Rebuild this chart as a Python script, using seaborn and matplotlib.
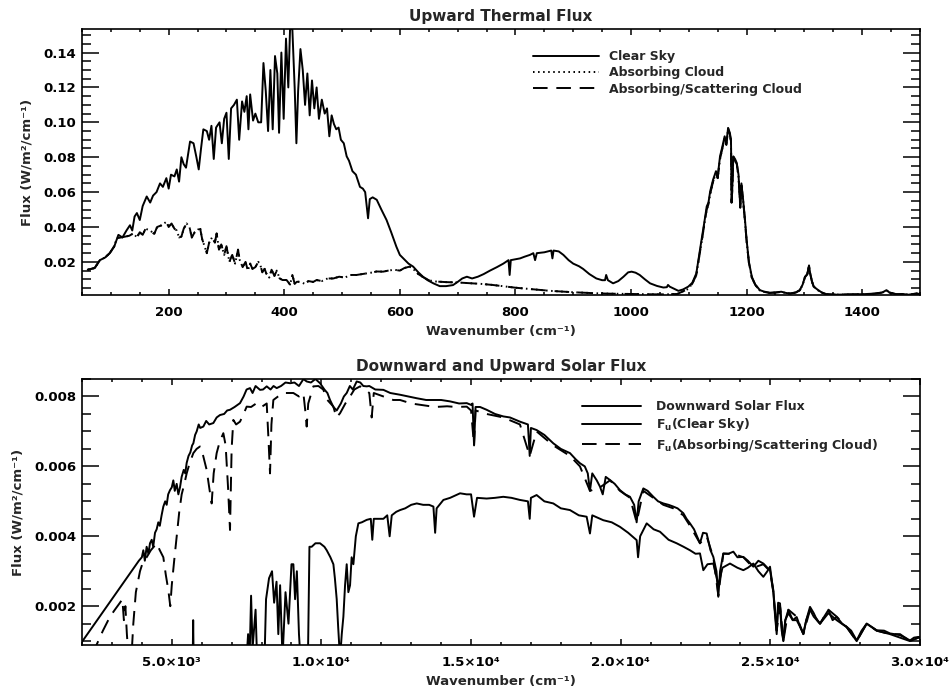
import matplotlib
matplotlib.use("Agg")
import matplotlib.pyplot as plt
import seaborn as sns
from matplotlib.ticker import MultipleLocator, FixedLocator, FixedFormatter, FormatStrFormatter

# ---------------- Upward thermal flux (top panel) ----------------
thermal_clear_x = [60, 72, 81, 90, 98, 106, 113, 120, 127, 133, 137, 141, 145, 150, 155, 162, 168, 173, 179, 185,
                   190, 196, 200, 204, 210, 214, 218, 222, 226, 230, 237, 243, 248, 252, 256, 260, 266, 270, 274, 278,
                   282, 288, 292, 296, 300, 304, 308, 313, 318, 322, 327, 331, 335, 338, 341, 346, 350, 355, 360, 364,
                   368, 372, 376, 380, 384, 388, 391, 395, 399, 403, 407, 410, 414, 418, 421, 424, 428, 432, 436, 440,
                   444, 448, 452, 456, 460, 465, 470, 474, 478, 482, 486, 490, 494, 498, 503, 508, 512, 518, 524, 531,
                   536, 540, 545, 548, 553, 560, 568, 577, 585, 594, 600, 606, 615, 623, 632, 640, 648, 658, 669, 680,
                   692, 700, 708, 716, 725, 735, 745, 756, 768, 779, 788, 790, 792, 800, 808, 816, 825, 831, 834, 837,
                   850, 862, 864, 866, 875, 883, 892, 900, 910, 917, 928, 940, 950, 955, 957, 960, 969, 978, 987, 995,
                   1001, 1008, 1015, 1024, 1033, 1045, 1056, 1062, 1064, 1067, 1075, 1082, 1090, 1099, 1106, 1113,
                   1117, 1122, 1127, 1131, 1134, 1137, 1142, 1147, 1150, 1154, 1158, 1162, 1165, 1168, 1171, 1173,
                   1174, 1175, 1177, 1180, 1183, 1186, 1188, 1189, 1191, 1194, 1197, 1200, 1204, 1209, 1215, 1223,
                   1230, 1240, 1250, 1260, 1268, 1275, 1285, 1292, 1297, 1301, 1305, 1308, 1310, 1313, 1316, 1320,
                   1324, 1330, 1338, 1356, 1380, 1402, 1420, 1435, 1442, 1447, 1459, 1470, 1480, 1494, 1500]
thermal_clear_y = [0.0155, 0.0165, 0.021, 0.0225, 0.025, 0.029, 0.0355, 0.034, 0.038, 0.041, 0.038, 0.046, 0.048,
                   0.044, 0.052, 0.0575, 0.054, 0.058, 0.060, 0.065, 0.063, 0.068, 0.062, 0.070, 0.069, 0.073, 0.066,
                   0.080, 0.076, 0.074, 0.089, 0.088, 0.080, 0.073, 0.085, 0.096, 0.095, 0.090, 0.098, 0.079, 0.097,
                   0.100, 0.088, 0.102, 0.1055, 0.079, 0.108, 0.110, 0.113, 0.090, 0.112, 0.106, 0.115, 0.096, 0.116,
                   0.101, 0.105, 0.100, 0.100, 0.134, 0.118, 0.095, 0.130, 0.096, 0.138, 0.128, 0.094, 0.140, 0.102,
                   0.148, 0.120, 0.1534, 0.1534, 0.120, 0.088, 0.118, 0.142, 0.130, 0.110, 0.128, 0.104, 0.124, 0.108,
                   0.120, 0.102, 0.113, 0.105, 0.108, 0.092, 0.104, 0.099, 0.096, 0.097, 0.090, 0.088, 0.0805, 0.078,
                   0.072, 0.070, 0.063, 0.062, 0.060, 0.045, 0.056, 0.057, 0.0556, 0.050, 0.044, 0.037, 0.0287, 0.024,
                   0.022, 0.019, 0.0173, 0.014, 0.0115, 0.0095, 0.0077, 0.0061, 0.0061, 0.0067, 0.0085, 0.0105, 0.0115,
                   0.0105, 0.0115, 0.013, 0.015, 0.017, 0.019, 0.021, 0.0125, 0.021, 0.0215, 0.022, 0.023, 0.024, 0.025,
                   0.021, 0.025, 0.0255, 0.0265, 0.022, 0.0265, 0.026, 0.024, 0.021, 0.019, 0.0175, 0.016, 0.013,
                   0.0105, 0.0095, 0.0095, 0.0125, 0.0095, 0.0077, 0.009, 0.0115, 0.014, 0.0144, 0.0138, 0.0125, 0.010,
                   0.0077, 0.0062, 0.0053, 0.0055, 0.0068, 0.0058, 0.0045, 0.0034, 0.0042, 0.0058, 0.008, 0.0134, 0.022,
                   0.0326, 0.043, 0.0518, 0.054, 0.0605, 0.0671, 0.072, 0.069, 0.0805, 0.086, 0.092, 0.088, 0.0968,
                   0.094, 0.090, 0.054, 0.060, 0.0805, 0.079, 0.0767, 0.070, 0.058, 0.0518, 0.065, 0.0556, 0.045,
                   0.0326, 0.020, 0.0115, 0.007, 0.0038, 0.003, 0.0023, 0.0025, 0.0029, 0.0022, 0.0019, 0.0025, 0.0038,
                   0.007, 0.0115, 0.013, 0.018, 0.0135, 0.009, 0.006, 0.0048, 0.0038, 0.0025, 0.0015, 0.0012, 0.0014,
                   0.0015, 0.0018, 0.0025, 0.0038, 0.0025, 0.0015, 0.0016, 0.0012, 0.0019, 0.0015]

thermal_scat_x = [60, 72, 81, 90, 98, 106, 110, 118, 125, 132, 139, 145, 150, 155, 160, 168, 175, 180, 188, 196,
                  200, 205, 210, 214, 218, 222, 226, 231, 236, 240, 245, 250, 254, 258, 262, 266, 270, 275, 280, 283,
                  287, 291, 296, 300, 305, 310, 315, 320, 323, 328, 333, 337, 341, 345, 350, 355, 358, 362, 366, 369,
                  374, 378, 383, 387, 392, 397, 404, 410, 414, 418, 422, 427, 435, 442, 450, 456, 465, 475, 485, 495,
                  505, 514, 525, 535, 542, 550, 560, 571, 580, 590, 600, 608, 617, 623, 632, 640, 650, 660, 680, 700,
                  720, 740, 760, 780, 800, 820, 840, 860, 880, 900, 920, 940, 960, 980, 1000, 1020, 1040, 1060, 1080,
                  1099, 1106, 1113, 1117, 1122, 1127, 1131, 1134, 1137, 1142, 1147, 1150, 1154, 1158, 1162, 1165,
                  1168, 1171, 1173, 1174, 1175, 1177, 1180, 1183, 1186, 1188, 1189, 1191, 1194, 1197, 1200, 1204,
                  1209, 1215, 1223, 1230, 1240, 1250, 1260, 1268, 1275, 1285, 1292, 1297, 1301, 1305, 1308, 1310,
                  1313, 1316, 1320, 1324, 1330, 1338, 1356, 1380, 1402, 1420, 1435, 1442, 1447, 1459, 1470, 1480,
                  1494, 1500]
thermal_scat_y = [0.0155, 0.0165, 0.021, 0.0225, 0.025, 0.029, 0.0335, 0.034, 0.0345, 0.035, 0.0364, 0.034, 0.037,
                  0.0355, 0.039, 0.038, 0.036, 0.040, 0.041, 0.043, 0.040, 0.042, 0.039, 0.038, 0.034, 0.0345, 0.039,
                  0.042, 0.040, 0.034, 0.037, 0.038, 0.040, 0.033, 0.029, 0.025, 0.031, 0.034, 0.031, 0.0364, 0.027,
                  0.030, 0.024, 0.029, 0.020, 0.024, 0.019, 0.027, 0.021, 0.017, 0.020, 0.015, 0.019, 0.016, 0.017,
                  0.020, 0.019, 0.014, 0.016, 0.0133, 0.011, 0.0155, 0.012, 0.015, 0.0105, 0.0096, 0.0096, 0.007,
                  0.0125, 0.0075, 0.0086, 0.0086, 0.0075, 0.009, 0.0085, 0.0096, 0.009, 0.0105, 0.0105, 0.0115, 0.011,
                  0.0125, 0.0125, 0.013, 0.0134, 0.0138, 0.0145, 0.0144, 0.015, 0.0155, 0.015, 0.0165, 0.0173, 0.016,
                  0.013, 0.0113, 0.0095, 0.0088, 0.0084, 0.0082, 0.0078, 0.0074, 0.0068, 0.006, 0.0052, 0.0046,
                  0.004, 0.0034, 0.003, 0.0026, 0.0023, 0.002, 0.0018, 0.0017, 0.0016, 0.0015, 0.0014, 0.0014,
                  0.0016, 0.0045, 0.0075, 0.0125, 0.021, 0.031, 0.042, 0.050, 0.053, 0.059, 0.066, 0.071, 0.068,
                  0.079, 0.085, 0.091, 0.087, 0.0965, 0.093, 0.089, 0.054, 0.060, 0.079, 0.078, 0.076, 0.069, 0.058,
                  0.051, 0.064, 0.055, 0.044, 0.032, 0.0195, 0.011, 0.0068, 0.0036, 0.0028, 0.0022, 0.0024, 0.0028,
                  0.0021, 0.0018, 0.0024, 0.0037, 0.0068, 0.0112, 0.0128, 0.0178, 0.0132, 0.0088, 0.0058, 0.0046,
                  0.0036, 0.0024, 0.0014, 0.0012, 0.0013, 0.0014, 0.0017, 0.0024, 0.0037, 0.0024, 0.0014, 0.0015,
                  0.0012, 0.0018, 0.0015]

thermal_abs_x = thermal_scat_x
thermal_abs_y = thermal_scat_y

# ---------------- Solar flux (bottom panel) ----------------
down_x = [2000, 3900, 4000, 4050, 4100, 4160, 4220, 4272, 4330, 4380, 4440, 4495, 4550, 4600, 4660, 4718, 4780,
          4830, 4880, 4941, 5000, 5052, 5100, 5164, 5220, 5275, 5330, 5400, 5450, 5498, 5560, 5620, 5680, 5721,
          5780, 5832, 5900, 5950, 6055, 6150, 6250, 6389, 6500, 6612, 6750, 6850, 6946, 7100, 7280, 7400, 7500,
          7614, 7700, 7800, 7949, 8050, 8172, 8300, 8400, 8506, 8650, 8800, 8952, 9100, 9250, 9400, 9508, 9650,
          9800, 9954, 10100, 10200, 10288, 10400, 10511, 10650, 10750, 10845, 10950, 11050, 11179, 11300, 11400,
          11514, 11600, 11800, 12071, 12300, 12628, 12900, 13185, 13500, 13742, 14000, 14299, 14600, 14856, 15000,
          15050, 15100, 15150, 15300, 15520, 15800, 16077, 16300, 16634, 16900, 16960, 17000, 17191, 17450, 17748,
          18000, 18305, 18500, 18639, 18800, 18900, 18973, 19050, 19200, 19308, 19400, 19500, 19642, 19800, 19976,
          20150, 20310, 20450, 20533, 20600, 20756, 20900, 21090, 21250, 21424, 21600, 21758, 21900, 22093, 22200,
          22315, 22450, 22649, 22750, 22872, 23000, 23095, 23200, 23262, 23320, 23429, 23600, 23764, 23900, 24098,
          24250, 24432, 24600, 24766, 24900, 24989, 25100, 25160, 25212, 25260, 25323, 25380, 25435, 25500, 25602,
          25750, 25880, 26000, 26103, 26200, 26326, 26450, 26560, 26660, 26800, 26939, 27080, 27217, 27400, 27551,
          27700, 27885, 28050, 28219, 28400, 28553, 28800, 28999, 29150, 29333, 29500, 29668, 29800, 29946, 30000]
down_y = [0.00098, 0.0033, 0.0034, 0.0036, 0.0033, 0.0037, 0.0035, 0.0038, 0.0039, 0.0037, 0.0041, 0.0042, 0.0044,
          0.0043, 0.0046, 0.00485, 0.0050, 0.0049, 0.0052, 0.00532, 0.0054, 0.0056, 0.0053, 0.0055, 0.0052, 0.0054,
          0.0057, 0.0059, 0.0058, 0.0061, 0.0063, 0.0064, 0.0066, 0.00666, 0.0069, 0.0070, 0.0072, 0.0071, 0.00714,
          0.0073, 0.0072, 0.00724, 0.0074, 0.00747, 0.0075, 0.0076, 0.00762, 0.0077, 0.00781, 0.0080, 0.0082,
          0.00824, 0.0081, 0.0083, 0.00819, 0.0082, 0.00829, 0.0082, 0.0083, 0.00824, 0.0083, 0.0084, 0.00838,
          0.0084, 0.0083, 0.0085, 0.00843, 0.0084, 0.0085, 0.00838, 0.0082, 0.0081, 0.0079, 0.0077, 0.0076, 0.0078,
          0.0080, 0.0081, 0.0083, 0.0082, 0.00843, 0.0084, 0.0083, 0.00829, 0.0083, 0.0082, 0.00819, 0.0081,
          0.00805, 0.0080, 0.00795, 0.0079, 0.0079, 0.0079, 0.00786, 0.0078, 0.00781, 0.00776, 0.0078, 0.0066,
          0.0077, 0.0077, 0.00762, 0.0075, 0.00743, 0.0074, 0.00728, 0.0072, 0.0063, 0.0071, 0.00704, 0.0069,
          0.00666, 0.0065, 0.00638, 0.0062, 0.00609, 0.0060, 0.0058, 0.0053, 0.0058, 0.0056, 0.00542, 0.0052,
          0.0057, 0.00561, 0.0055, 0.00532, 0.0052, 0.00513, 0.0049, 0.0044, 0.0050, 0.00537, 0.0053, 0.00513,
          0.0050, 0.00494, 0.0049, 0.00485, 0.0048, 0.00466, 0.0045, 0.00437, 0.0042, 0.0038, 0.0041, 0.00408,
          0.0036, 0.00341, 0.0030, 0.00227, 0.0030, 0.00351, 0.0035, 0.00356, 0.0034, 0.00341, 0.0033, 0.00313,
          0.0033, 0.00322, 0.0031, 0.00303, 0.00246, 0.0018, 0.00131, 0.0021, 0.00208, 0.0014, 0.00102, 0.0016,
          0.00189, 0.0016, 0.00169, 0.0014, 0.00122, 0.0016, 0.00198, 0.0018, 0.0016, 0.0015, 0.0017, 0.00189,
          0.0016, 0.00169, 0.0015, 0.00141, 0.0013, 0.00102, 0.0013, 0.0015, 0.0014, 0.00131, 0.0013, 0.00122,
          0.0012, 0.00117, 0.0011, 0.00102, 0.0011, 0.00112, 0.0011]

upclear_x = [5500, 5700, 5715, 5730, 7500, 7550, 7600, 7650, 7700, 7800, 7850, 8100, 8150, 8250, 8350, 8420, 8500,
             8560, 8620, 8700, 8800, 8900, 9000, 9063, 9120, 9180, 9250, 9300, 9550, 9600, 9675, 9800, 9954, 10100,
             10177, 10300, 10400, 10450, 10511, 10560, 10622, 10680, 10734, 10790, 10845, 10900, 10957, 11010, 11068,
             11150, 11235, 11350, 11514, 11650, 11700, 11750, 11900, 12071, 12200, 12280, 12350, 12500, 12628, 12800,
             13000, 13185, 13400, 13600, 13742, 13800, 13850, 14076, 14300, 14633, 14850, 15000, 15100, 15200,
             15520, 15800, 16077, 16350, 16634, 16900, 16960, 17000, 17191, 17450, 17748, 18000, 18305, 18600,
             18862, 18973, 19050, 19419, 19700, 19976, 20250, 20533, 20580, 20650, 20868, 21100, 21313, 21600,
             21870, 22100, 22315, 22500, 22649, 22761, 22900, 23095, 23262, 23400, 23652, 23900, 24098, 24250,
             24432, 24600, 24766, 24900, 24989, 25100, 25160, 25212, 25260, 25323, 25380, 25435, 25500, 25602,
             25750, 25880, 26000, 26103, 26200, 26326, 26450, 26660, 26939, 27217, 27551, 27885, 28219, 28553,
             28999, 29333, 29668, 29946, 30000]
upclear_y = [0.0005, 0.0005, 0.0016, 0.0005, 0.0005, 0.0012, 0.0005, 0.0023, 0.0008, 0.0019, 0.0005, 0.0005, 0.0022,
             0.0028, 0.0030, 0.0021, 0.0027, 0.0012, 0.0026, 0.0005, 0.0024, 0.0015, 0.0032, 0.0032, 0.0022, 0.0030,
             0.0012, 0.0005, 0.0005, 0.0037, 0.0037, 0.0038, 0.0038, 0.0037, 0.0036, 0.0034, 0.0032, 0.0028, 0.0022,
             0.0014, 0.0005, 0.0012, 0.0017, 0.0026, 0.0032, 0.0024, 0.0026, 0.0034, 0.0032, 0.0040, 0.00437, 0.0044,
             0.00447, 0.0045, 0.0039, 0.0045, 0.0045, 0.0045, 0.0046, 0.0040, 0.0046, 0.0047, 0.00475, 0.0048,
             0.0049, 0.00494, 0.0049, 0.0049, 0.00485, 0.0041, 0.0048, 0.00504, 0.0051, 0.00523, 0.0052, 0.0052,
             0.00456, 0.0051, 0.00508, 0.0051, 0.00513, 0.0051, 0.00504, 0.0050, 0.0045, 0.0051, 0.00518, 0.0050,
             0.00494, 0.0048, 0.00475, 0.0046, 0.00456, 0.00408, 0.0046, 0.00446, 0.0044, 0.00427, 0.0041, 0.00389,
             0.0034, 0.0040, 0.00437, 0.0042, 0.00413, 0.0039, 0.0038, 0.0037, 0.0036, 0.0035, 0.00351, 0.00303,
             0.0032, 0.00322, 0.0026, 0.0031, 0.00322, 0.0031, 0.00303, 0.0031, 0.00322, 0.0030, 0.00284, 0.0030,
             0.00313, 0.0024, 0.0017, 0.0012, 0.0020, 0.0020, 0.0013, 0.0010, 0.0016, 0.0018, 0.0016, 0.0016,
             0.0014, 0.0012, 0.0016, 0.0019, 0.0017, 0.0015, 0.0018, 0.0016, 0.0014, 0.0010, 0.0015, 0.0013,
             0.0012, 0.0011, 0.0010, 0.0011, 0.0011]

upcloud_x = [2400, 2490, 2700, 2936, 3100, 3270, 3350, 3400, 3450, 3500, 3560, 3650, 3715, 3800, 3938, 4050, 4161,
             4300, 4400, 4495, 4600, 4718, 4800, 4885, 4950, 5000, 5080, 5164, 5250, 5331, 5420, 5498, 5600, 5721,
             5830, 5944, 6050, 6166, 6250, 6333, 6400, 6500, 6600, 6723, 6800, 6880, 6946, 7000, 7057, 7150, 7280,
             7400, 7503, 7650, 7837, 8000, 8172, 8230, 8283, 8330, 8394, 8550, 8729, 8900, 9063, 9250, 9397, 9460,
             9508, 9560, 9731, 9900, 10060, 10200, 10400, 10500, 10622, 10800, 10957, 11100, 11291, 11450, 11600,
             11680, 11750, 12071, 12400, 12628, 13000, 13400, 13800, 14200, 14500, 14856, 15000, 15100, 15150,
             15520, 16077, 16634, 16960, 17191, 17748, 18305, 18639, 18973, 19308, 19642, 19976, 20310, 20533,
             20756, 21090, 21424, 21758, 22093, 22315, 22649, 22872, 23095, 23262, 23429, 23764, 24098, 24432,
             24766, 24989, 25100, 25212, 25323, 25435, 25602, 25880, 26103, 26326, 26660, 26939, 27217, 27551,
             27885, 28219, 28553, 28999, 29333, 29668, 29946, 30000]
upcloud_y = [0.0006, 0.0009, 0.0013, 0.0017, 0.0019, 0.0021, 0.0022, 0.0016, 0.0020, 0.0012, 0.0005, 0.0005, 0.0015,
             0.0024, 0.0030, 0.0033, 0.0034, 0.0036, 0.0037, 0.0038, 0.0036, 0.0034, 0.0029, 0.00246, 0.0020, 0.0026,
             0.0033, 0.0040, 0.0047, 0.0052, 0.0055, 0.0058, 0.0061, 0.00638, 0.0065, 0.00657, 0.0063, 0.0059,
             0.0054, 0.00494, 0.0058, 0.00638, 0.0067, 0.00695, 0.0066, 0.0054, 0.00418, 0.0065, 0.00733, 0.0072,
             0.00728, 0.0075, 0.00771, 0.0077, 0.00781, 0.0077, 0.0078, 0.0068, 0.0058, 0.0072, 0.0079, 0.0080,
             0.0081, 0.0081, 0.0081, 0.0080, 0.0081, 0.0076, 0.00714, 0.0078, 0.00829, 0.0083, 0.0082, 0.0079,
             0.00771, 0.0074, 0.00752, 0.0078, 0.0080, 0.0082, 0.00829, 0.0082, 0.0081, 0.0074, 0.0081, 0.0080,
             0.0079, 0.0079, 0.0078, 0.00775, 0.0077, 0.00772, 0.0077, 0.00771, 0.0076, 0.0066, 0.0076, 0.0075,
             0.0074, 0.0072, 0.0063, 0.0070, 0.0066, 0.0063, 0.0060, 0.0053, 0.0054, 0.0056, 0.0053, 0.0051, 0.0044,
             0.0053, 0.0051, 0.0049, 0.0048, 0.0046, 0.0043, 0.0038, 0.0040, 0.0034, 0.0023, 0.0035, 0.0035, 0.0034,
             0.0031, 0.0032, 0.0030, 0.0024, 0.0013, 0.0020, 0.0010, 0.0019, 0.0017, 0.0012, 0.0019, 0.0015, 0.0019,
             0.0017, 0.0014, 0.0010, 0.0015, 0.0013, 0.0012, 0.0012, 0.0010, 0.0011, 0.0011]

thermal_xticks = [200, 400, 600, 800, 1000, 1200, 1400]
thermal_yticks = [0.02, 0.04, 0.06, 0.08, 0.10, 0.12, 0.14]
solar_xticks = [5000, 10000, 15000, 20000, 25000, 30000]
solar_xticklabels = ["5.0×10³", "1.0×10⁴", "1.5×10⁴", "2.0×10⁴", "2.5×10⁴", "3.0×10⁴"]
solar_yticks = [0.002, 0.004, 0.006, 0.008]

# ---------------- Styling ----------------
sns.set_style("ticks")
plt.rcParams["font.family"] = ["DejaVu Sans"]
plt.rcParams["font.weight"] = "bold"
plt.rcParams["mathtext.default"] = "bf"

fig = plt.figure(figsize=(9.5, 6.89), dpi=100)
ax1 = fig.add_axes([0.0863, 0.5718, 0.8821, 0.3861])
ax2 = fig.add_axes([0.0863, 0.0639, 0.8821, 0.3860])

LW = 1.4
DASH = (0, (7.5, 4.5))
DOT = (0, (0.8, 1.8))

sns.lineplot(x=thermal_clear_x, y=thermal_clear_y, ax=ax1, color="black", lw=LW, sort=False,
             estimator=None, label="Clear Sky")
sns.lineplot(x=thermal_abs_x, y=thermal_abs_y, ax=ax1, color="black", lw=LW, sort=False,
             estimator=None, linestyle=DOT, label="Absorbing Cloud")
sns.lineplot(x=thermal_scat_x, y=thermal_scat_y, ax=ax1, color="black", lw=LW, sort=False,
             estimator=None, linestyle=DASH, label="Absorbing/Scattering Cloud")

sns.lineplot(x=down_x, y=down_y, ax=ax2, color="black", lw=LW, sort=False, estimator=None,
             label="Downward Solar Flux")
sns.lineplot(x=upclear_x, y=upclear_y, ax=ax2, color="black", lw=LW, sort=False, estimator=None,
             label="F$_u$(Clear Sky)")
sns.lineplot(x=upcloud_x, y=upcloud_y, ax=ax2, color="black", lw=LW, sort=False, estimator=None,
             linestyle=DASH, label="F$_u$(Absorbing/Scattering Cloud)")

# axes limits and ticks
ax1.set_xlim(50, 1500)
ax1.set_ylim(0.001, 0.1535)
ax1.xaxis.set_major_locator(FixedLocator(thermal_xticks))
ax1.xaxis.set_minor_locator(MultipleLocator(50))
ax1.yaxis.set_major_locator(FixedLocator(thermal_yticks))
ax1.yaxis.set_minor_locator(MultipleLocator(0.005))
ax1.yaxis.set_major_formatter(FormatStrFormatter("%.2f"))

ax2.set_xlim(2000, 30000)
ax2.set_ylim(0.00089, 0.0085)
ax2.xaxis.set_major_locator(FixedLocator(solar_xticks))
ax2.xaxis.set_major_formatter(FixedFormatter(solar_xticklabels))
ax2.xaxis.set_minor_locator(MultipleLocator(1000))
ax2.yaxis.set_major_locator(FixedLocator(solar_yticks))
ax2.yaxis.set_minor_locator(MultipleLocator(0.0005))
ax2.yaxis.set_major_formatter(FormatStrFormatter("%.3f"))

for ax in (ax1, ax2):
    for s in ax.spines.values():
        s.set_visible(True)
        s.set_linewidth(1.2)
        s.set_color("black")
    ax.tick_params(axis="both", which="both", direction="in", top=True, right=True,
                   colors="black", width=1.1, labelsize=9.5)
    ax.tick_params(axis="x", which="major", length=4.0, pad=8)
    ax.tick_params(axis="x", which="minor", length=2.0)
    ax.tick_params(axis="y", which="major", length=12.5, pad=4)
    ax.tick_params(axis="y", which="minor", length=6.2)
    ax.set_xlabel("Wavenumber (cm⁻¹)", fontsize=9.5, fontweight="bold", labelpad=4)
    ax.set_ylabel("Flux (W/m²/cm⁻¹)", fontsize=9.5, fontweight="bold", labelpad=7)
    for lab in ax.get_xticklabels() + ax.get_yticklabels():
        lab.set_fontweight("bold")

ax1.set_title("Upward Thermal Flux", fontsize=11, fontweight="bold", pad=6)
ax2.set_title("Downward and Upward Solar Flux", fontsize=11, fontweight="bold", pad=6)

ax1.legend(loc="upper left", bbox_to_anchor=(0.538, 0.92), frameon=False, fontsize=9,
           handlelength=5.3, handletextpad=0.8, labelspacing=0.25, borderpad=0, borderaxespad=0)
ax2.legend(loc="upper left", bbox_to_anchor=(0.597, 0.92), frameon=False, fontsize=9,
           handlelength=4.7, handletextpad=1.2, labelspacing=0.25, borderpad=0, borderaxespad=0)

fig.savefig("out.png", dpi=100)
